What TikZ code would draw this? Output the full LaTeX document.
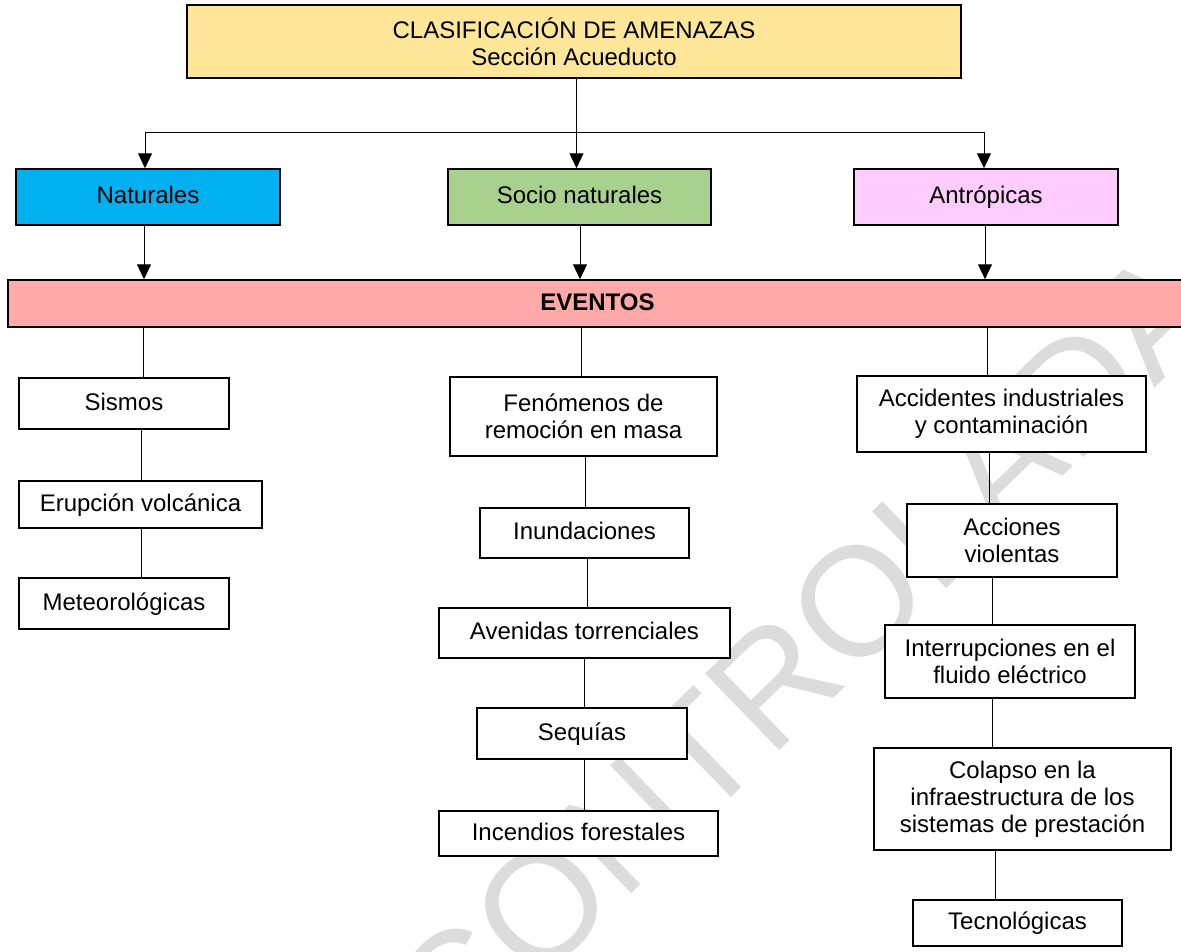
\documentclass[tikz,border=0pt]{standalone}
\usepackage{fontspec}
\setmainfont{Liberation Sans}
\usetikzlibrary{arrows.meta}
\definecolor{titlefill}{HTML}{FFE699}
\definecolor{natfill}{HTML}{00B0F0}
\definecolor{socfill}{HTML}{A9D18E}
\definecolor{antfill}{HTML}{FFCCFF}
\definecolor{evfill}{HTML}{FFA9A9}
\definecolor{wmgray}{HTML}{DCDCDC}
\begin{document}
\begin{tikzpicture}[x=1pt,y=-1pt,
  box/.style={draw=black, line width=1.5pt, fill=white, inner sep=0pt, align=center,
    font=\fontsize{24}{27}\selectfont},
  oneline/.style={text height=17pt, text depth=4pt},
  link/.style={line width=1pt},
  arr/.style={line width=1pt, -{Triangle[length=15pt,width=14pt]}},
]
\useasboundingbox (0,0) rectangle (1181,951);
% watermark
\node[rotate=44, text=wmgray, inner sep=0pt, font=\fontsize{155}{155}\selectfont] (wm) at (805,652) {CONTROLADA};

% boxes
\node[box, fill=titlefill, minimum width=774pt, minimum height=73pt] (title) at (574,41.5) {CLASIFICACIÓN DE AMENAZAS\\Sección Acueducto};
\node[box, oneline, fill=natfill, minimum width=264pt, minimum height=56pt] (nat) at (148,197) {Naturales};
\node[box, oneline, fill=socfill, minimum width=263pt, minimum height=56pt] (soc) at (579.5,197) {Socio naturales};
\node[box, oneline, fill=antfill, minimum width=264pt, minimum height=56pt] (ant) at (986,197) {Antrópicas};
\node[box, oneline, fill=evfill, minimum width=1179pt, minimum height=47pt, font=\fontsize{24}{27}\selectfont\bfseries] (ev) at (597.5,303.5) {EVENTOS};

\node[box, oneline, minimum width=210pt, minimum height=51pt] (sis) at (124,403.5) {Sismos};
\node[box, oneline, minimum width=243pt, minimum height=47pt] (eru) at (140.5,504.5) {Erupción volcánica};
\node[box, oneline, minimum width=210pt, minimum height=51pt] (met) at (124,603.5) {Meteorológicas};

\node[box, minimum width=267pt, minimum height=79pt] (fen) at (583.5,416.5) {Fenómenos de\\remoción en masa};
\node[box, oneline, minimum width=209pt, minimum height=50pt] (inu) at (584.5,533) {Inundaciones};
\node[box, oneline, minimum width=291pt, minimum height=50pt] (ave) at (584.5,633) {Avenidas torrenciales};
\node[box, oneline, minimum width=210pt, minimum height=51pt] (seq) at (582,733.5) {Sequías};
\node[box, oneline, minimum width=279pt, minimum height=45pt] (inc) at (578.5,833.5) {Incendios forestales};

\node[box, minimum width=289pt, minimum height=76pt] (acc) at (1001.5,414) {Accidentes industriales\\y contaminación};
\node[box, minimum width=210pt, minimum height=73pt] (acv) at (1012,540.5) {Acciones\\violentas};
\node[box, minimum width=250pt, minimum height=73pt] (int) at (1010,661.5) {Interrupciones en el\\fluido eléctrico};
\node[box, minimum width=297pt, minimum height=102pt] (col) at (1022.5,799) {Colapso en la\\infraestructura de los\\sistemas de prestación};
\node[box, oneline, minimum width=209pt, minimum height=46pt] (tec) at (1017.5,923) {Tecnológicas};

% column coordinates
\foreach \n/\x in {xa/144,xb/580,xc/985,xd/143,xe/141,xf/581,xg/585,xh/587,xi/584,xj/987,xk/989.5,xl/992.5,xm/995.5}
  {\coordinate (\n) at (\x,0);}
\coordinate (hl) at (145,132);
\coordinate (hm) at (576.5,132);
\coordinate (hr) at (984,132);

% connectors
\draw[link] (title.south -| hm) -- (hm);
\draw[link] (hl) -- (hr);
\draw[arr] (hl) -- (hl |- nat.north);
\draw[arr] (hm) -- (hm |- soc.north);
\draw[arr] (hr) -- (hr |- ant.north);

\draw[arr] (nat.south -| xa) -- (ev.north -| xa);
\draw[arr] (soc.south -| xb) -- (ev.north -| xb);
\draw[arr] (ant.south -| xc) -- (ev.north -| xc);

\draw[link] (ev.south -| xd) -- (sis.north -| xd);
\draw[link] (sis.south -| xe) -- (eru.north -| xe);
\draw[link] (eru.south -| xe) -- (met.north -| xe);

\draw[link] (ev.south -| xf) -- (fen.north -| xf);
\draw[link] (fen.south -| xg) -- (inu.north -| xg);
\draw[link] (inu.south -| xh) -- (ave.north -| xh);
\draw[link] (ave.south -| xi) -- (seq.north -| xi);
\draw[link] (seq.south -| xi) -- (inc.north -| xi);

\draw[link] (ev.south -| xj) -- (acc.north -| xj);
\draw[link] (acc.south -| xk) -- (acv.north -| xk);
\draw[link] (acv.south -| xl) -- (int.north -| xl);
\draw[link] (int.south -| xl) -- (col.north -| xl);
\draw[link] (col.south -| xm) -- (tec.north -| xm);
\end{tikzpicture}
\end{document}
